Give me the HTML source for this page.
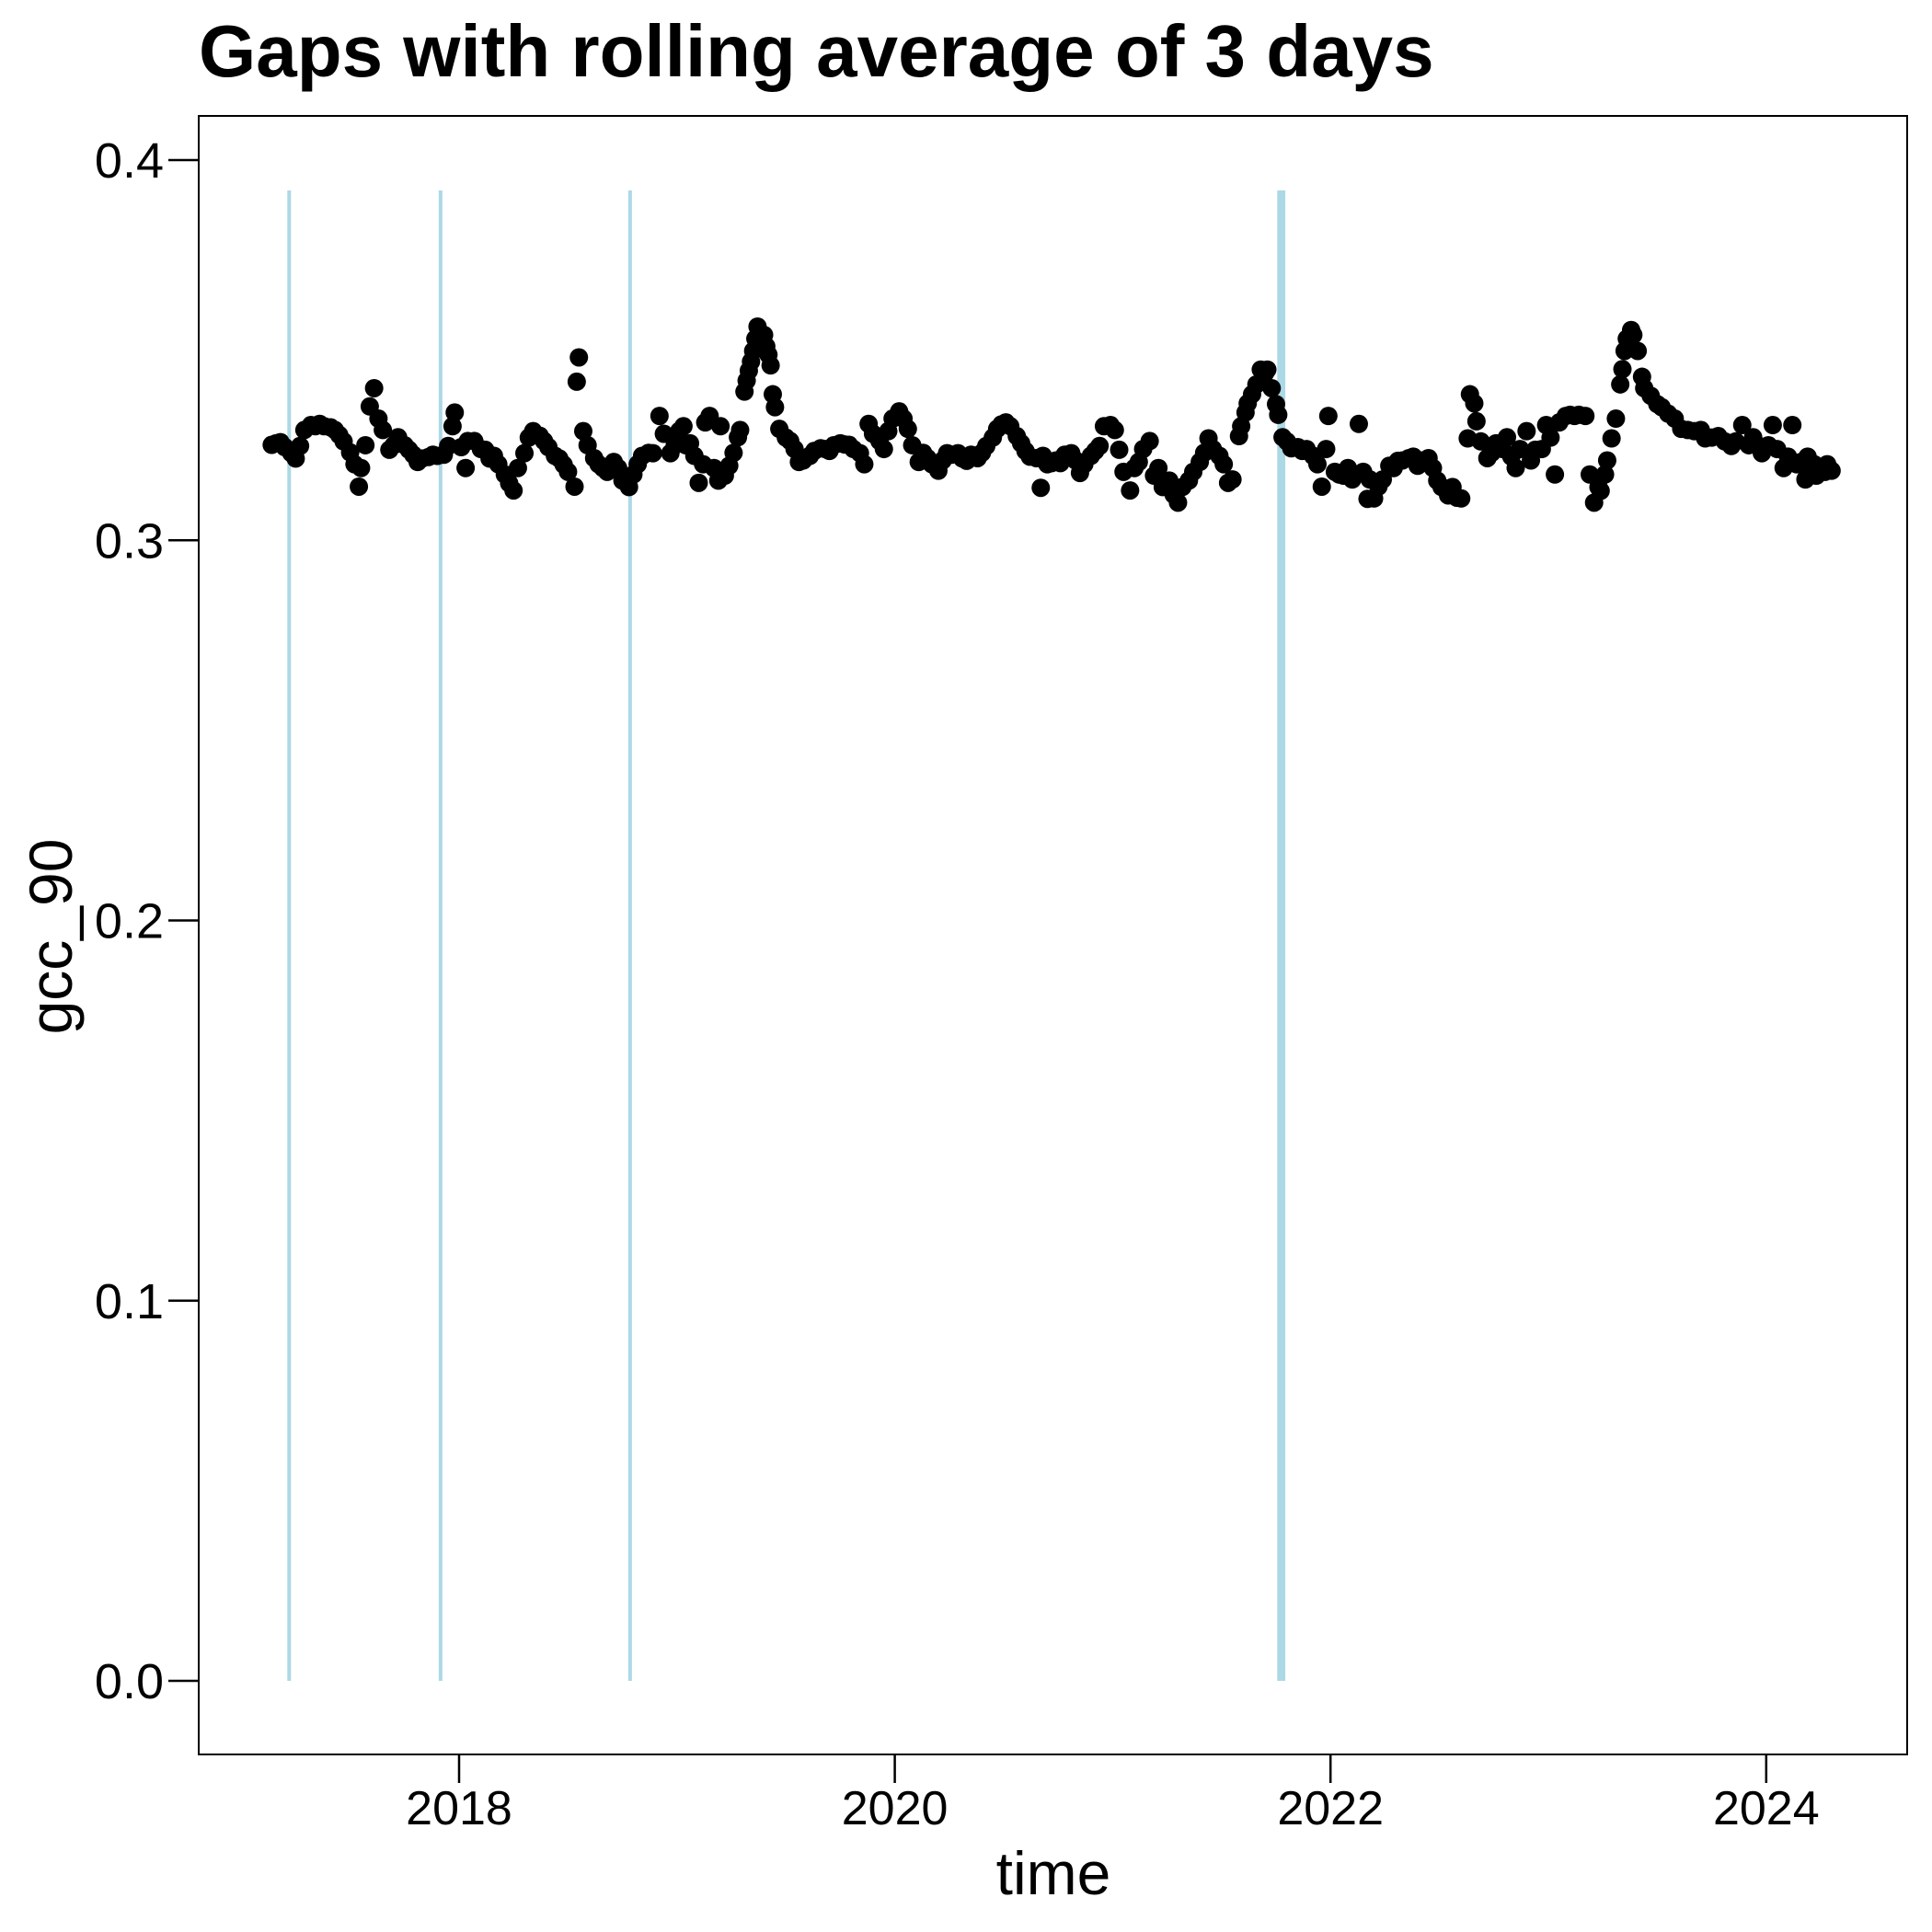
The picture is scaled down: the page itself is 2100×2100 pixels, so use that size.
<!DOCTYPE html>
<html><head><meta charset="utf-8"><style>
html,body{margin:0;padding:0;background:#fff}
svg{display:block;font-family:"Liberation Sans",Arial,sans-serif}
</style></head><body>
<svg id="chart" width="2100" height="2100" viewBox="0 0 2100 2100" xmlns="http://www.w3.org/2000/svg">
<rect width="2100" height="2100" fill="#fff"/>
<text x="216" y="83" font-size="80" font-weight="bold">Gaps with rolling average of 3 days</text>
<g id="gaps"></g>
<g id="points"></g>
<rect x="216" y="126" width="1857" height="1781" fill="none" stroke="#000" stroke-width="2"/>
<g id="yaxis"></g>
<g id="xaxis"></g>
<text x="1145" y="2059" font-size="66" text-anchor="middle">time</text>
<text transform="translate(78,1018) rotate(-90)" font-size="66" text-anchor="middle">gcc_90</text>
</svg>
<script>
const dates=[2017.14,2017.18,2017.23,2017.27,2017.32,2017.36,2017.41,2017.45,2017.50,2017.54,2017.55,2017.59,2017.61,2017.63,2017.68,2017.72,2017.77,2017.81,2017.86,2017.90,2017.95,2017.98,2018.03,2018.04,2018.07,2018.12,2018.16,2018.21,2018.25,2018.30,2018.34,2018.39,2018.44,2018.48,2018.53,2018.54,2018.55,2018.57,2018.62,2018.66,2018.71,2018.75,2018.80,2018.84,2018.89,2018.92,2018.97,2019.01,2019.06,2019.08,2019.10,2019.15,2019.19,2019.20,2019.24,2019.28,2019.31,2019.33,2019.35,2019.37,2019.40,2019.42,2019.44,2019.47,2019.52,2019.56,2019.61,2019.66,2019.70,2019.75,2019.79,2019.84,2019.88,2019.93,2019.97,2020.02,2020.06,2020.11,2020.15,2020.20,2020.24,2020.29,2020.33,2020.38,2020.42,2020.47,2020.51,2020.56,2020.60,2020.65,2020.67,2020.68,2020.72,2020.76,2020.81,2020.85,2020.90,2020.94,2020.99,2021.03,2021.08,2021.10,2021.12,2021.17,2021.21,2021.26,2021.30,2021.35,2021.40,2021.44,2021.49,2021.53,2021.58,2021.61,2021.64,2021.68,2021.71,2021.75,2021.78,2021.82,2021.87,2021.92,2021.96,2021.99,2022.04,2022.08,2022.13,2022.17,2022.18,2022.22,2022.27,2022.31,2022.36,2022.40,2022.45,2022.49,2022.54,2022.56,2022.58,2022.63,2022.64,2022.67,2022.72,2022.76,2022.81,2022.85,2022.90,2022.94,2022.99,2023.03,2023.08,2023.12,2023.17,2023.19,2023.21,2023.23,2023.26,2023.29,2023.33,2023.35,2023.38,2023.41,2023.44,2023.50,2023.55,2023.61,2023.67,2023.72,2023.78,2023.84,2023.89,2023.94,2023.98,2024.03,2024.08,2024.12,2024.16,2024.18,2024.21,2024.22,2024.25,2024.30];
const values=[0.3251,0.3258,0.3229,0.3248,0.3303,0.3306,0.3297,0.3277,0.3231,0.3141,0.3190,0.3352,0.3400,0.3320,0.3238,0.3271,0.3238,0.3206,0.3219,0.3222,0.3248,0.3336,0.3190,0.3261,0.3261,0.3238,0.3222,0.3173,0.3131,0.3229,0.3287,0.3261,0.3222,0.3199,0.3141,0.3417,0.3481,0.3287,0.3216,0.3190,0.3206,0.3157,0.3173,0.3222,0.3229,0.3327,0.3229,0.3287,0.3255,0.3222,0.3151,0.3327,0.3157,0.3300,0.3196,0.3271,0.3391,0.3446,0.3498,0.3562,0.3540,0.3488,0.3384,0.3293,0.3261,0.3206,0.3222,0.3242,0.3235,0.3255,0.3251,0.3229,0.3306,0.3261,0.3287,0.3339,0.3293,0.3206,0.3216,0.3183,0.3229,0.3229,0.3209,0.3216,0.3248,0.3293,0.3310,0.3274,0.3235,0.3216,0.3138,0.3222,0.3203,0.3203,0.3229,0.3177,0.3222,0.3248,0.3303,0.3238,0.3131,0.3190,0.3206,0.3261,0.3190,0.3157,0.3099,0.3157,0.3206,0.3268,0.3222,0.3151,0.3274,0.3336,0.3384,0.3449,0.3449,0.3358,0.3271,0.3242,0.3235,0.3222,0.3141,0.3327,0.3173,0.3190,0.3306,0.3109,0.3160,0.3141,0.3196,0.3209,0.3216,0.3196,0.3216,0.3157,0.3118,0.3140,0.3112,0.3268,0.3384,0.3313,0.3216,0.3255,0.3271,0.3190,0.3287,0.3238,0.3303,0.3173,0.3327,0.3327,0.3327,0.3173,0.3099,0.3140,0.3173,0.3268,0.3410,0.3498,0.3553,0.3498,0.3400,0.3358,0.3333,0.3293,0.3287,0.3268,0.3274,0.3248,0.3303,0.3271,0.3229,0.3303,0.3190,0.3303,0.3206,0.3160,0.3190,0.3200,0.3190,0.3183];
const dates2=[2017.16,2017.20,2017.25,2017.29,2017.34,2017.38,2017.43,2017.47,2017.52,2017.57,2017.65,2017.70,2017.75,2017.79,2017.83,2017.88,2017.93,2017.97,2018.01,2018.10,2018.14,2018.18,2018.23,2018.27,2018.32,2018.37,2018.41,2018.46,2018.50,2018.59,2018.64,2018.68,2018.73,2018.78,2018.82,2018.87,2018.94,2018.99,2019.03,2019.04,2019.12,2019.13,2019.17,2019.22,2019.26,2019.29,2019.32,2019.34,2019.36,2019.38,2019.41,2019.43,2019.45,2019.50,2019.54,2019.58,2019.63,2019.68,2019.72,2019.77,2019.81,2019.86,2019.90,2019.95,2019.99,2020.04,2020.08,2020.13,2020.17,2020.22,2020.26,2020.31,2020.35,2020.40,2020.45,2020.49,2020.53,2020.58,2020.62,2020.70,2020.74,2020.78,2020.83,2020.87,2020.92,2020.96,2021.01,2021.05,2021.14,2021.19,2021.23,2021.28,2021.32,2021.37,2021.42,2021.46,2021.51,2021.55,2021.59,2021.62,2021.66,2021.70,2021.73,2021.76,2021.80,2021.85,2021.89,2021.94,2021.98,2022.02,2022.06,2022.10,2022.15,2022.20,2022.24,2022.29,2022.33,2022.38,2022.42,2022.47,2022.51,2022.60,2022.66,2022.69,2022.74,2022.79,2022.83,2022.87,2022.92,2022.97,2023.01,2023.05,2023.10,2023.14,2023.24,2023.27,2023.31,2023.34,2023.36,2023.39,2023.43,2023.47,2023.52,2023.58,2023.64,2023.70,2023.75,2023.81,2023.86,2023.92,2023.96,2024.01,2024.05,2024.10,2024.14,2024.19,2024.23,2024.27,2024.28];
const values2=[0.3255,0.3245,0.3215,0.3290,0.3300,0.3300,0.3290,0.3260,0.3200,0.3250,0.3290,0.3250,0.3250,0.3225,0.3215,0.3225,0.3225,0.3300,0.3245,0.3240,0.3215,0.3200,0.3150,0.3190,0.3270,0.3275,0.3245,0.3215,0.3180,0.3250,0.3200,0.3180,0.3190,0.3140,0.3200,0.3230,0.3280,0.3250,0.3300,0.3250,0.3200,0.3310,0.3190,0.3170,0.3230,0.3290,0.3420,0.3470,0.3530,0.3540,0.3510,0.3460,0.3350,0.3270,0.3240,0.3210,0.3235,0.3240,0.3250,0.3252,0.3240,0.3200,0.3280,0.3240,0.3320,0.3320,0.3250,0.3230,0.3200,0.3210,0.3225,0.3215,0.3225,0.3230,0.3270,0.3305,0.3300,0.3255,0.3220,0.3200,0.3210,0.3225,0.3210,0.3200,0.3235,0.3300,0.3290,0.3180,0.3240,0.3170,0.3140,0.3120,0.3140,0.3180,0.3230,0.3240,0.3200,0.3160,0.3300,0.3360,0.3410,0.3440,0.3400,0.3330,0.3260,0.3245,0.3240,0.3200,0.3240,0.3180,0.3170,0.3160,0.3180,0.3110,0.3160,0.3190,0.3210,0.3220,0.3210,0.3190,0.3140,0.3110,0.3360,0.3260,0.3230,0.3240,0.3220,0.3240,0.3210,0.3240,0.3270,0.3310,0.3330,0.3330,0.3130,0.3210,0.3320,0.3450,0.3530,0.3540,0.3430,0.3380,0.3350,0.3320,0.3290,0.3290,0.3270,0.3260,0.3260,0.3250,0.3250,0.3250,0.3240,0.3220,0.3200,0.3220,0.3170,0.3180,0.3200];
const gapDates=[2017.22,2017.915,2018.785,2021.774];
const gapWidths=[1,1,1,2.2];
const gapTop=0.392;
const yTicks=[0,0.1,0.2,0.3,0.4];
const yTickLabels=["0.0","0.1","0.2","0.3","0.4"];
const xTicks=[2018,2020,2022,2024];
const xTickLabels=["2018","2020","2022","2024"];

const NS="http://www.w3.org/2000/svg";
function xs(yr){return 499+(yr-2018)*236.8;}
function ys(v){return 1827-v*4132.5;}
function mk(tag,attrs,parent){const e=document.createElementNS(NS,tag);for(const k in attrs)e.setAttribute(k,attrs[k]);parent.appendChild(e);return e;}

const gG=document.getElementById('gaps');
gapDates.forEach((d,i)=>{
  const l=mk('line',{x1:xs(d),x2:xs(d),y1:ys(gapTop),y2:ys(0),stroke:'#add8e6','stroke-width':4*gapWidths[i]},gG);
  
  
});
const pG=document.getElementById('points');
function drawPts(ds,vs){
  ds.forEach((d,i)=>{
    const c=mk('circle',{cx:xs(d),cy:ys(vs[i]),r:10,fill:'#000'},pG);
    
    
  });
}
drawPts(dates,values);
drawPts(dates2,values2);
const yA=document.getElementById('yaxis');
yTicks.forEach((t,i)=>{
  const l=mk('line',{x1:183,x2:216,y1:ys(t),y2:ys(t),stroke:'#000','stroke-width':2.5},yA);
  
  
  const tx=mk('text',{x:178,y:ys(t)+19,'font-size':54,'text-anchor':'end'},yA);
  tx.textContent=yTickLabels[i];
  
  
});
const xA=document.getElementById('xaxis');
xTicks.forEach((t,i)=>{
  const l=mk('line',{x1:xs(t),x2:xs(t),y1:1907,y2:1938,stroke:'#000','stroke-width':2.5},xA);
  
  
  const tx=mk('text',{x:xs(t),y:1983,'font-size':52,'text-anchor':'middle'},xA);
  tx.textContent=xTickLabels[i];
  
  
});
</script>
</body></html>
